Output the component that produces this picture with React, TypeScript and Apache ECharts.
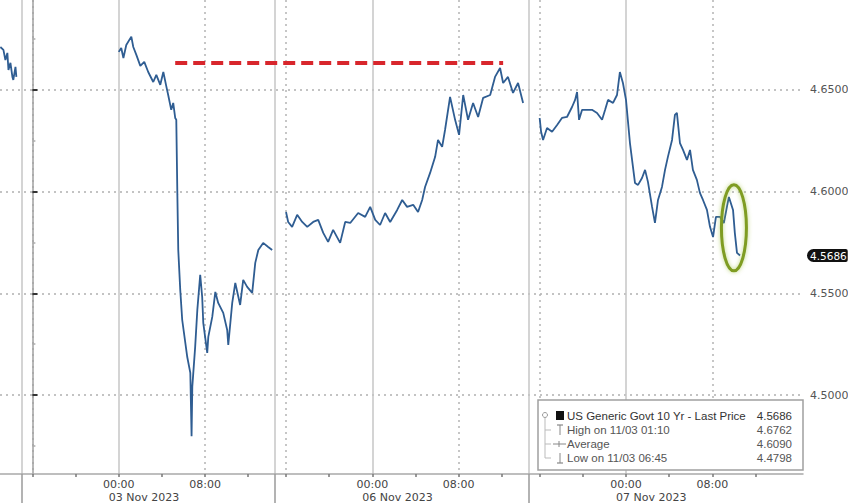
import React, { useEffect, useRef } from "react";
import * as echarts from "echarts";

// ---- data (time of day, yield) per trading session ----
// sessions run 16:00 (previous evening) to ~15:00; index -1 = 02 Nov, 0 = 03 Nov, 1 = 06 Nov, 2 = 07 Nov
const nov02: [string, number][] = [
  ["12:32", 4.6711], ["12:49", 4.6697], ["13:00", 4.6647], ["13:11", 4.6682], ["13:17", 4.6598],
  ["13:28", 4.6633], ["13:39", 4.6564], ["13:44", 4.6549], ["13:56", 4.6613], ["14:01", 4.6564],
];
const nov03: [string, number][] = [
  ["00:00", 4.6687], ["00:14", 4.6706], ["00:26", 4.6657], ["00:42", 4.6721], ["01:10", 4.6762],
  ["01:21", 4.6711], ["01:38", 4.6672], ["02:00", 4.6618], ["02:22", 4.6638], ["02:44", 4.6588],
  ["03:12", 4.6539], ["03:29", 4.6574], ["03:51", 4.6525], ["04:08", 4.6588], ["04:24", 4.652],
  ["04:35", 4.6475], ["04:52", 4.6402], ["05:03", 4.6436], ["05:14", 4.6362], ["05:20", 4.6353],
  ["05:26", 4.5984], ["05:31", 4.5713], ["05:42", 4.5517], ["05:53", 4.5369], ["06:21", 4.5187],
  ["06:38", 4.5109], ["06:45", 4.4798], ["06:49", 4.504], ["07:05", 4.5237], ["07:17", 4.5419],
  ["07:33", 4.5591], ["07:44", 4.5482], ["07:50", 4.5355], ["08:12", 4.5207], ["08:18", 4.5286],
  ["08:40", 4.5384], ["08:57", 4.5507], ["09:13", 4.5453], ["09:41", 4.5404], ["10:03", 4.532],
  ["10:09", 4.5246], ["10:31", 4.5453], ["10:48", 4.5551], ["11:15", 4.5443], ["11:32", 4.5566],
  ["11:54", 4.5532], ["12:22", 4.5502], ["12:39", 4.565], ["12:56", 4.5713], ["13:23", 4.5748],
  ["13:51", 4.5728], ["14:13", 4.5713],
];
const nov06: [string, number][] = [
  ["16:00", 4.59], ["16:12", 4.5851], ["16:34", 4.5827], ["17:02", 4.5886], ["17:30", 4.5851],
  ["17:58", 4.5827], ["18:31", 4.5851], ["18:59", 4.5861], ["19:27", 4.5797], ["19:54", 4.5753],
  ["20:22", 4.5812], ["21:01", 4.5748], ["21:29", 4.5851], ["21:57", 4.5846], ["22:41", 4.5895],
  ["23:20", 4.5876], ["23:48", 4.5925], ["00:16", 4.5861], ["00:43", 4.5836], ["01:11", 4.5895],
  ["01:39", 4.5851], ["02:18", 4.591], ["02:46", 4.5959], ["03:13", 4.5925], ["03:47", 4.5935],
  ["04:14", 4.59], ["04:37", 4.5959], ["04:53", 4.6023], ["05:21", 4.6092], ["05:49", 4.6171],
  ["06:05", 4.6254], ["06:28", 4.622], ["06:44", 4.6303], ["07:12", 4.6466], ["07:40", 4.6353],
  ["08:02", 4.6279], ["08:25", 4.6475], ["08:52", 4.6353], ["09:20", 4.6436], ["09:48", 4.6367],
  ["10:16", 4.6461], ["10:55", 4.6475], ["11:22", 4.6564], ["11:50", 4.6608], ["12:07", 4.6534],
  ["12:34", 4.6564], ["13:02", 4.6485], ["13:30", 4.6534], ["13:58", 4.6436],
];
const nov07: [string, number][] = [
  ["16:00", 4.6362], ["16:08", 4.6294], ["16:19", 4.6254], ["16:41", 4.6313], ["17:09", 4.6294],
  ["17:37", 4.6328], ["18:04", 4.6362], ["18:32", 4.6367], ["19:00", 4.6416], ["19:17", 4.6451],
  ["19:28", 4.649], ["19:39", 4.6353], ["19:56", 4.6402], ["20:23", 4.6402], ["20:51", 4.6402],
  ["21:19", 4.6387], ["21:47", 4.6353], ["22:04", 4.6402], ["22:20", 4.6451], ["22:48", 4.6436],
  ["23:10", 4.6475], ["23:26", 4.6588], ["23:43", 4.6534], ["00:00", 4.6451], ["00:22", 4.6239],
  ["00:50", 4.6043], ["01:07", 4.6033], ["01:29", 4.6067], ["01:46", 4.6107], ["02:02", 4.6048],
  ["02:25", 4.5925], ["02:41", 4.5846], ["02:58", 4.5959], ["03:20", 4.6023], ["03:37", 4.6107],
  ["03:53", 4.6171], ["04:16", 4.6254], ["04:32", 4.6377], ["04:43", 4.6387], ["05:00", 4.6239],
  ["05:17", 4.6205], ["05:39", 4.6156], ["05:56", 4.6205], ["06:12", 4.6107], ["06:34", 4.6058],
  ["06:51", 4.5994], ["07:08", 4.5959], ["07:30", 4.591], ["07:47", 4.5827], ["08:04", 4.5777],
  ["08:20", 4.5876], ["08:42", 4.5876], ["09:04", 4.5846], ["09:21", 4.5925], ["09:32", 4.5974],
  ["09:55", 4.591], ["10:05", 4.5797], ["10:17", 4.5699], ["10:34", 4.5686],
];

const DATE_LABELS = ["03 Nov 2023", "06 Nov 2023", "07 Nov 2023"];
const TIME_LABELS = ["00:00", "08:00"];
const Y_TICKS = [4.5, 4.55, 4.6, 4.65];
const Y_MINOR = [4.475, 4.525, 4.575, 4.625, 4.675];

const LAST_PRICE = 4.5686;
const HIGH = 4.6762;
const AVERAGE = 4.609;
const LOW = 4.4798;
const LEGEND_ROWS = [
  { label: "US Generic Govt 10 Yr - Last Price", value: LAST_PRICE },
  { label: "High on 11/03 01:10", value: HIGH },
  { label: "Average", value: AVERAGE },
  { label: "Low on 11/03 06:45", value: LOW },
];

// red dashed reference level and the highlighted (circled) final move
const RED_LEVEL = 4.6636;
const RED_FROM: [number, string] = [0, "05:14"];
const RED_TO: [number, string] = [1, "12:07"];
const CIRCLE_AT: [number, string, number] = [2, "10:00", 4.5822];

// ---- compressed session time scale ----
const SESSION_SPAN = 23.5;
function toX(session: number, t: string): number {
  const [h, m] = t.split(":").map(Number);
  const hs = (h + m / 60 - 16 + 24) % 24;
  return session * SESSION_SPAN + hs;
}
const XMIN = toX(-1, "12:30");
const XMAX = 71.4;
const YMIN = 4.4612;
const YMAX = 4.6942;

const SESS = [0, 1, 2];
const FOUR_HOUR_TICKS = SESS.flatMap((s) => [0, 4, 8, 12, 16, 20].map((o) => s * SESSION_SPAN + o));
const SEPARATORS = SESS.map((s) => s * SESSION_SPAN - 1);
const MIDNIGHTS = SESS.map((s) => toX(s, "00:00"));
const EIGHTS = SESS.map((s) => toX(s, "08:00"));
const SIXTEENS = SESS.map((s) => toX(s, "16:00"));
const TIME_LABEL_ITEMS = SESS.flatMap((s) => TIME_LABELS.map((t) => ({ pos: toX(s, t), text: t })));
const DATE_LABEL_ITEMS = SESS.map((s, i) => ({ pos: toX(s, "02:20"), text: DATE_LABELS[i] }));

function lookup(items: { pos: number; text: string }[], v: number) {
  let best = items[0];
  for (const it of items) if (Math.abs(it.pos - v) < Math.abs(best.pos - v)) best = it;
  return best.text;
}

function buildSeries() {
  const sessions: [number, [string, number][]][] = [[-1, nov02], [0, nov03], [1, nov06], [2, nov07]];
  const out: any[] = [];
  sessions.forEach(([s, arr], i) => {
    if (i > 0) {
      const prev = out[out.length - 1][0];
      const next = toX(s, arr[0][0]);
      out.push([(prev + next) / 2, "-"]);
    }
    arr.forEach(([t, v]) => out.push([toX(s, t), v]));
  });
  return out;
}

const AXIS_FONT = "DejaVu Sans";
const LEG_FONT = "Liberation Sans";

function legendGraphics() {
  const els: any[] = [];
  const rowY = [416, 430, 444, 458];
  els.push({ type: "rect", shape: { x: 538, y: 400, width: 265, height: 70 }, style: { fill: "#fff", stroke: "#a0a0a0", lineWidth: 1.5 }, z: 10 });
  els.push({ type: "line", shape: { x1: 545, y1: 418, x2: 545, y2: rowY[3] }, style: { stroke: "#bbb", lineWidth: 1 }, z: 11 });
  els.push({ type: "circle", shape: { cx: 545, cy: 415, r: 2.5 }, style: { fill: "#fff", stroke: "#999", lineWidth: 1 }, z: 11 });
  [1, 2, 3].forEach((i) => els.push({ type: "line", shape: { x1: 545, y1: rowY[i], x2: 551, y2: rowY[i] }, style: { stroke: "#bbb", lineWidth: 1 }, z: 11 }));
  els.push({ type: "rect", shape: { x: 556, y: 411, width: 8, height: 9 }, style: { fill: "#111" }, z: 11 });
  // high icon
  els.push({ type: "line", shape: { x1: 560, y1: rowY[1] - 5, x2: 560, y2: rowY[1] + 5 }, style: { stroke: "#888", lineWidth: 1 }, z: 11 });
  els.push({ type: "line", shape: { x1: 557, y1: rowY[1] - 5, x2: 563, y2: rowY[1] - 5 }, style: { stroke: "#888", lineWidth: 1.2 }, z: 11 });
  // average icon
  els.push({ type: "line", shape: { x1: 553, y1: rowY[2], x2: 566, y2: rowY[2] }, style: { stroke: "#888", lineWidth: 1 }, z: 11 });
  els.push({ type: "line", shape: { x1: 559, y1: rowY[2] - 3, x2: 559, y2: rowY[2] + 3 }, style: { stroke: "#888", lineWidth: 1 }, z: 11 });
  // low icon
  els.push({ type: "line", shape: { x1: 560, y1: rowY[3] - 5, x2: 560, y2: rowY[3] + 5 }, style: { stroke: "#888", lineWidth: 1 }, z: 11 });
  els.push({ type: "line", shape: { x1: 557, y1: rowY[3] + 5, x2: 563, y2: rowY[3] + 5 }, style: { stroke: "#888", lineWidth: 1.2 }, z: 11 });
  LEGEND_ROWS.forEach((r, i) => {
    const col = i === 0 ? "#333" : "#555";
    els.push({ type: "text", x: 567, y: rowY[i], z: 11, style: { text: r.label, font: `11.5px '${LEG_FONT}'`, fill: col, textAlign: "left", textVerticalAlign: "middle" } });
    els.push({ type: "text", x: 792, y: rowY[i], z: 11, style: { text: r.value.toFixed(4), font: `11.5px '${LEG_FONT}'`, fill: col, textAlign: "right", textVerticalAlign: "middle" } });
  });
  return els;
}

export default function App() {
  const ref = useRef<HTMLDivElement>(null);
  useEffect(() => {
    if (!ref.current) return;
    const chart = echarts.init(ref.current, undefined, { renderer: "svg" });
    const hidden = { axisLine: { show: false }, axisLabel: { show: false } };
    const option: any = {
      animation: false,
      backgroundColor: "#fff",
      grid: { left: 0, right: 45, top: 0, bottom: 29, containLabel: false, outerBoundsMode: "none" },
      xAxis: [
        {
          type: "value", min: XMIN, max: XMAX, position: "bottom",
          axisLine: { show: true, onZero: false, lineStyle: { color: "#a8a8a8", width: 1.5 } },
          axisTick: { show: true, customValues: FOUR_HOUR_TICKS, length: 3, lineStyle: { color: "#777", width: 1.5 } },
          axisLabel: {
            show: true, customValues: TIME_LABEL_ITEMS.map((d) => d.pos), margin: 4,
            formatter: (v: number) => lookup(TIME_LABEL_ITEMS, v),
            color: "#444", fontSize: 11, lineHeight: 12, fontFamily: AXIS_FONT,
          },
          splitLine: { show: false },
        },
        {
          type: "value", min: XMIN, max: XMAX, position: "bottom", ...hidden,
          axisTick: { show: false, customValues: [...SEPARATORS, ...MIDNIGHTS] },
          splitLine: { show: true, lineStyle: { color: "#c6c6c6", width: 1.5, type: "solid" } },
        },
        {
          type: "value", min: XMIN, max: XMAX, position: "bottom", ...hidden,
          axisTick: { show: false, customValues: [...SIXTEENS, ...EIGHTS] },
          splitLine: { show: true, lineStyle: { color: "#b4b4b4", width: 1.5, type: [2, 4] } },
        },
        {
          type: "value", min: XMIN, max: XMAX, position: "bottom",
          axisLine: { show: false },
          axisTick: { show: true, customValues: SEPARATORS, length: 30, lineStyle: { color: "#9a9a9a", width: 1.5 } },
          axisLabel: {
            show: true, customValues: DATE_LABEL_ITEMS.map((d) => d.pos), margin: 17,
            formatter: (v: number) => lookup(DATE_LABEL_ITEMS, v),
            color: "#444", fontSize: 11, lineHeight: 12, fontFamily: AXIS_FONT,
          },
          splitLine: { show: false },
        },
      ],
      yAxis: [
        {
          type: "value", position: "right", min: YMIN, max: YMAX,
          axisLine: { show: true, lineStyle: { color: "#a0a0a0", width: 1.5 } },
          axisTick: { show: true, customValues: Y_TICKS, length: 5, lineStyle: { color: "#333", width: 2 } },
          axisLabel: {
            show: true, customValues: Y_TICKS, margin: 7, formatter: (v: number) => v.toFixed(4),
            color: "#555", fontSize: 11, fontFamily: AXIS_FONT,
          },
          splitLine: { show: true, lineStyle: { color: "#b0b0b0", width: 1.5, type: [2, 4] } },
        },
        {
          type: "value", position: "right", min: YMIN, max: YMAX, ...hidden,
          axisTick: { show: true, customValues: Y_MINOR, length: 3, lineStyle: { color: "#aaa", width: 1.5 } },
          splitLine: { show: false },
        },
        {
          type: "value", position: "right", min: YMIN, max: YMAX,
          axisLine: { show: false },
          axisTick: { show: false, customValues: [LAST_PRICE] },
          axisLabel: {
            show: true, customValues: [LAST_PRICE], margin: 4, formatter: (v: number) => v.toFixed(4),
            backgroundColor: "#111", color: "#fff", fontSize: 10.5, fontFamily: AXIS_FONT,
            padding: [1, 1, 1, 3], borderRadius: [7, 2, 2, 7],
          },
          splitLine: { show: false },
        },
      ],
      series: [
        {
          type: "line",
          xAxisIndex: 0, yAxisIndex: 0,
          data: buildSeries(),
          showSymbol: false, symbol: "none", connectNulls: false,
          lineStyle: { color: "#2f5d92", width: 1.8 },
          z: 3,
          markLine: {
            silent: true, symbol: ["none", "none"], animation: false,
            data: [
              [
                { coord: [toX(RED_FROM[0], RED_FROM[1]), RED_LEVEL] },
                { coord: [toX(RED_TO[0], RED_TO[1]), RED_LEVEL] },
              ],
            ],
            lineStyle: { color: "#d8262c", width: 4, type: [12, 6] },
            label: { show: false },
          },
        },
      ],
      graphic: legendGraphics(),
    };
    chart.setOption(option);
    const c = chart.convertToPixel({ seriesIndex: 0 }, [toX(CIRCLE_AT[0], CIRCLE_AT[1]), CIRCLE_AT[2]]) as number[];
    if (c && isFinite(c[0])) {
      chart.setOption({
        graphic: [
          ...legendGraphics(),
          {
            type: "ellipse", z: 12,
            shape: { cx: c[0], cy: c[1], rx: 12.5, ry: 43 },
            style: { fill: "none", stroke: "#7f9c23", lineWidth: 3, shadowBlur: 4, shadowColor: "rgba(160,195,70,0.7)" },
          },
        ],
      });
    }
    return () => chart.dispose();
  }, []);
  return (
    <div
      ref={ref}
      style={{ position: "fixed", left: 0, top: 0, width: 848, height: 503, background: "#fff" }}
    />
  );
}
